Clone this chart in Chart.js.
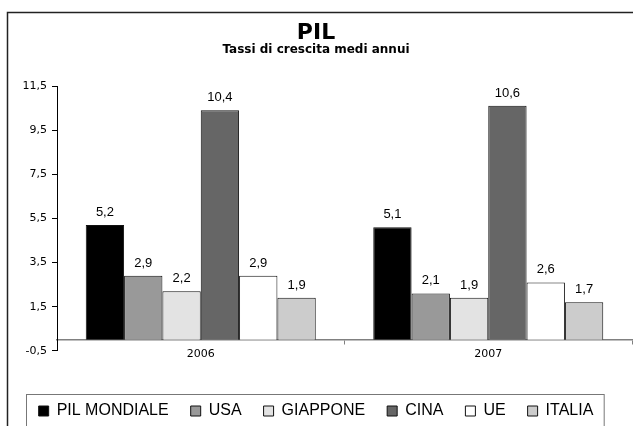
<!DOCTYPE html>
<html>
<head>
<meta charset="utf-8">
<script src="https://cdn.jsdelivr.net/npm/chart.js@4"></script>
<style>
  html, body { margin: 0; padding: 0; background: #fff; }
  #wrap { width: 633px; height: 426px; }
</style>
</head>
<body>
<div id="wrap"><canvas id="pilChart" width="633" height="426"></canvas></div>
<script>
// data
const years = ['2006', '2007'];
const pilMondiale = [5.2, 5.1];
const usa = [2.9, 2.1];
const giappone = [2.2, 1.9];
const cina = [10.4, 10.6];
const ue = [2.9, 2.6];
const italia = [1.9, 1.7];
const yTicks = [-0.5, 1.5, 3.5, 5.5, 7.5, 9.5, 11.5];

const fmt = v => v.toFixed(1).replace('.', ',');

// outer frame + legend frame
const framePlugin = {
    id: 'frames',
    afterDraw(chart) {
        const ctx = chart.ctx;
        ctx.save();
        ctx.strokeStyle = '#222';
        ctx.lineWidth = 1.5;
        ctx.strokeRect(7.5, 12.5, chart.width + 20, chart.height + 20);

        const boxes = chart.legend.legendHitBoxes;
        if (boxes && boxes.length) {
            const first = boxes[0];
            const last = boxes[boxes.length - 1];
            ctx.strokeStyle = '#777';
            ctx.lineWidth = 1;
            ctx.strokeRect(Math.round(first.left) - 12.5, Math.round(first.top) - 8.5,
                (last.left + last.width) - first.left + 23, 80);
        }
        ctx.restore();
    }
};

// value labels over the bars
const valueLabels = {
    id: 'valueLabels',
    afterDatasetsDraw(chart) {
        const ctx = chart.ctx;
        ctx.save();
        ctx.font = '13px "Liberation Sans", Arial, sans-serif';
        ctx.fillStyle = '#000';
        ctx.textAlign = 'center';
        ctx.textBaseline = 'alphabetic';
        chart.data.datasets.forEach((ds, i) => {
            chart.getDatasetMeta(i).data.forEach((bar, j) => {
                ctx.fillText(fmt(ds.data[j]), bar.x, bar.y - 9);
            });
        });
        ctx.restore();
    }
};

const tickFont = { family: '"DejaVu Sans", Verdana, sans-serif', size: 11 };

new Chart(document.getElementById('pilChart').getContext('2d'), {
    type: 'bar',
    data: {
        labels: years,
        datasets: [
            { label: 'PIL MONDIALE', data: pilMondiale, backgroundColor: '#000000' },
            { label: 'USA', data: usa, backgroundColor: '#999999' },
            { label: 'GIAPPONE', data: giappone, backgroundColor: '#e3e3e3' },
            { label: 'CINA', data: cina, backgroundColor: '#666666' },
            { label: 'UE', data: ue, backgroundColor: '#ffffff' },
            { label: 'ITALIA', data: italia, backgroundColor: '#cccccc' }
        ].map(d => Object.assign(d, {
            borderColor: '#111',
            borderWidth: 1,
            categoryPercentage: 0.8,
            barPercentage: 1.0
        }))
    },
    options: {
        responsive: false,
        animation: false,
        devicePixelRatio: 1,
        layout: { padding: { top: 0, left: 0, right: 1, bottom: -3 } },
        plugins: {
            title: {
                display: true,
                text: 'PIL',
                color: '#000',
                font: { family: '"DejaVu Sans", Verdana, sans-serif', size: 22, weight: 'bold', lineHeight: 1 },
                padding: { top: 22, bottom: 0 }
            },
            subtitle: {
                display: true,
                text: 'Tassi di crescita medi annui',
                color: '#000',
                font: { family: '"DejaVu Sans", Verdana, sans-serif', size: 12, weight: 'bold', lineHeight: 1 },
                padding: { top: 0, bottom: 30 }
            },
            legend: {
                position: 'bottom',
                // empty title only used as spacer above the items
                title: { display: true, text: ' ', font: { size: 1 }, padding: { top: 29, bottom: 0 } },
                labels: {
                    color: '#000',
                    font: { family: '"Liberation Sans", Arial, sans-serif', size: 16 },
                    boxWidth: 10,
                    boxHeight: 10,
                    padding: 22
                }
            },
            tooltip: { enabled: false }
        },
        scales: {
            x: {
                position: { y: 0 },
                grid: { drawOnChartArea: false, offset: true, tickLength: 4, color: '#808080' },
                border: { color: '#808080', width: 1.5 },
                ticks: { color: '#000', font: tickFont, padding: 4 }
            },
            y: {
                min: -0.5,
                max: 11.5,
                afterBuildTicks: s => { s.ticks = yTicks.map(v => ({ value: v })); },
                afterFit: s => { s.width = 57; },
                grid: { drawOnChartArea: false, tickLength: 5, color: '#000' },
                border: { color: '#000', width: 1 },
                ticks: { color: '#000', font: tickFont, padding: 5, callback: v => fmt(v) }
            }
        }
    },
    plugins: [framePlugin, valueLabels]
});
</script>
</body>
</html>
